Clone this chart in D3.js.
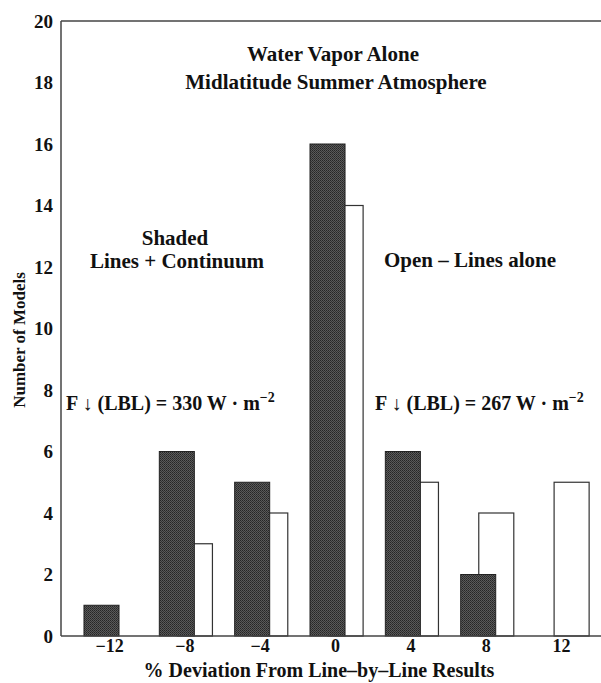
<!DOCTYPE html>
<html>
<head>
<meta charset="utf-8">
<script src="https://cdn.jsdelivr.net/npm/d3@7"></script>
<style>
  html, body { margin: 0; padding: 0; background: #fff; }
  #chart { width: 601px; height: 683px; }
  text { font-family: "Liberation Serif", "Times New Roman", serif; font-weight: bold; fill: #111; }
</style>
</head>
<body>
<div id="chart"></div>
<script>
// deviation bins (%)
const categories = [-12, -8, -4, 0, 4, 8, 12];
// shaded: lines + continuum
const shadedCounts = [1, 6, 5, 16, 6, 2, 0];
// open: lines alone
const openCounts = [0, 3, 4, 14, 5, 4, 5];
const yTicks = [0, 2, 4, 6, 8, 10, 12, 14, 16, 18, 20];

const chart = {};

chart.create = function(config){
  chart.config = config;
  this.config.margin = {top: 21, right: 0, bottom: 47, left: 61};
  this.config.width_svg = 601;
  this.config.height_svg = 683;
  this.config.svg = d3.select(`#${this.config.target}`)
                      .append('svg')
                      .attr('width', this.config.width_svg)
                      .attr('height', this.config.height_svg);
  this.update();
}

chart.update = function(){
  let margin = this.config.margin,
      width_svg = this.config.width_svg,
      height_svg = this.config.height_svg,
      svg = this.config.svg.append('g').attr('id', 'g_container');

  let xScale = d3.scaleLinear()
                .domain([-14.55, 14.12])
                .range([margin.left, width_svg - margin.right]);
  let yScale = d3.scaleLinear()
                .domain([0, 20])
                .range([height_svg - margin.bottom, margin.top]);
  let barW = xScale(1.86) - xScale(0);

  // dithered grey like the printed original
  let defs = svg.append('defs');
  let pat = defs.append('pattern')
              .attr('id', 'dots')
              .attr('width', 2).attr('height', 2)
              .attr('patternUnits', 'userSpaceOnUse');
  pat.append('rect').attr('width', 2).attr('height', 2).attr('fill', '#5a5a5a');
  pat.append('rect').attr('width', 1).attr('height', 1).attr('fill', '#262626');
  pat.append('rect').attr('x', 1).attr('y', 1).attr('width', 1).attr('height', 1).attr('fill', '#333');

  // open bars go under the shaded ones
  svg.append('g').attr('id', 'g_open')
    .selectAll('rect')
    .data(categories.map((c, i) => ({c: c, v: openCounts[i]})).filter(d => d.v > 0))
    .enter().append('rect')
      .attr('x', d => xScale(d.c - 0.37))
      .attr('y', d => yScale(d.v))
      .attr('width', barW)
      .attr('height', d => yScale(0) - yScale(d.v))
      .attr('fill', '#fff')
      .attr('stroke', '#333')
      .attr('stroke-width', 1.2);

  svg.append('g').attr('id', 'g_shaded')
    .selectAll('rect')
    .data(categories.map((c, i) => ({c: c, v: shadedCounts[i]})).filter(d => d.v > 0))
    .enter().append('rect')
      .attr('x', d => xScale(d.c - 1.33))
      .attr('y', d => yScale(d.v))
      .attr('width', barW)
      .attr('height', d => yScale(0) - yScale(d.v))
      .attr('fill', 'url(#dots)')
      .attr('stroke', '#222')
      .attr('stroke-width', 1);

  // frame: left, top, bottom (no right side)
  let frame = svg.append('g').attr('id', 'g_frame')
                .attr('stroke', '#444').attr('stroke-width', 1.5);
  frame.append('line')
    .attr('x1', margin.left).attr('x2', margin.left)
    .attr('y1', yScale(20)).attr('y2', yScale(0));
  frame.append('line')
    .attr('x1', margin.left).attr('x2', width_svg)
    .attr('y1', yScale(20)).attr('y2', yScale(20));
  frame.append('line')
    .attr('x1', margin.left).attr('x2', width_svg)
    .attr('y1', yScale(0)).attr('y2', yScale(0));

  let yAxis = g => g.attr('transform', `translate(${margin.left - 8}, 0)`)
                  .call(d3.axisLeft(yScale).tickValues(yTicks).tickSize(0).tickPadding(0))
                  .call(g => g.select('.domain').remove())
                  .call(g => g.selectAll('.tick text')
                              .attr('font-size', 19)
                              .attr('font-family', null));
  let xAxis = g => g.attr('transform', `translate(0, ${yScale(0) + 3})`)
                  .call(d3.axisBottom(xScale).tickValues(categories).tickSize(0).tickPadding(0)
                          .tickFormat(d => d < 0 ? '\u2212' + Math.abs(d) : d))
                  .call(g => g.select('.domain').remove())
                  .call(g => g.selectAll('.tick text')
                              .attr('font-size', 18)
                              .attr('font-family', null));
  svg.append('g').attr('id', 'g_yAxis').call(yAxis);
  svg.append('g').attr('id', 'g_xAxis').call(xAxis);

  let label = (x, y, txt, size, anchor) => svg.append('text')
                  .attr('x', x).attr('y', y)
                  .attr('font-size', size)
                  .attr('text-anchor', anchor || 'middle')
                  .text(txt);

  label(333, 61, 'Water Vapor Alone', 21);
  label(336, 89, 'Midlatitude Summer Atmosphere', 21);
  label(175, 245, 'Shaded', 21);
  label(177, 268, 'Lines + Continuum', 21);
  label(470, 267, 'Open \u2013 Lines alone', 21);

  let flux = (x, val) => {
    let t = svg.append('text')
              .attr('x', x).attr('y', 410)
              .attr('font-size', 20);
    t.append('tspan').text(`F \u2193 (LBL)  =  ${val} W \u00b7 m`);
    t.append('tspan').attr('dy', -8).attr('font-size', 14).text('\u22122');
  };
  flux(66, 330);
  flux(375, 267);

  svg.append('text')
    .attr('transform', `translate(25, 340) rotate(-90)`)
    .attr('text-anchor', 'middle')
    .attr('font-size', 17)
    .text('Number of Models');

  label(319, 677, '% Deviation From Line\u2013by\u2013Line Results', 20);
}

chart.create({target: 'chart'});
</script>
</body>
</html>
